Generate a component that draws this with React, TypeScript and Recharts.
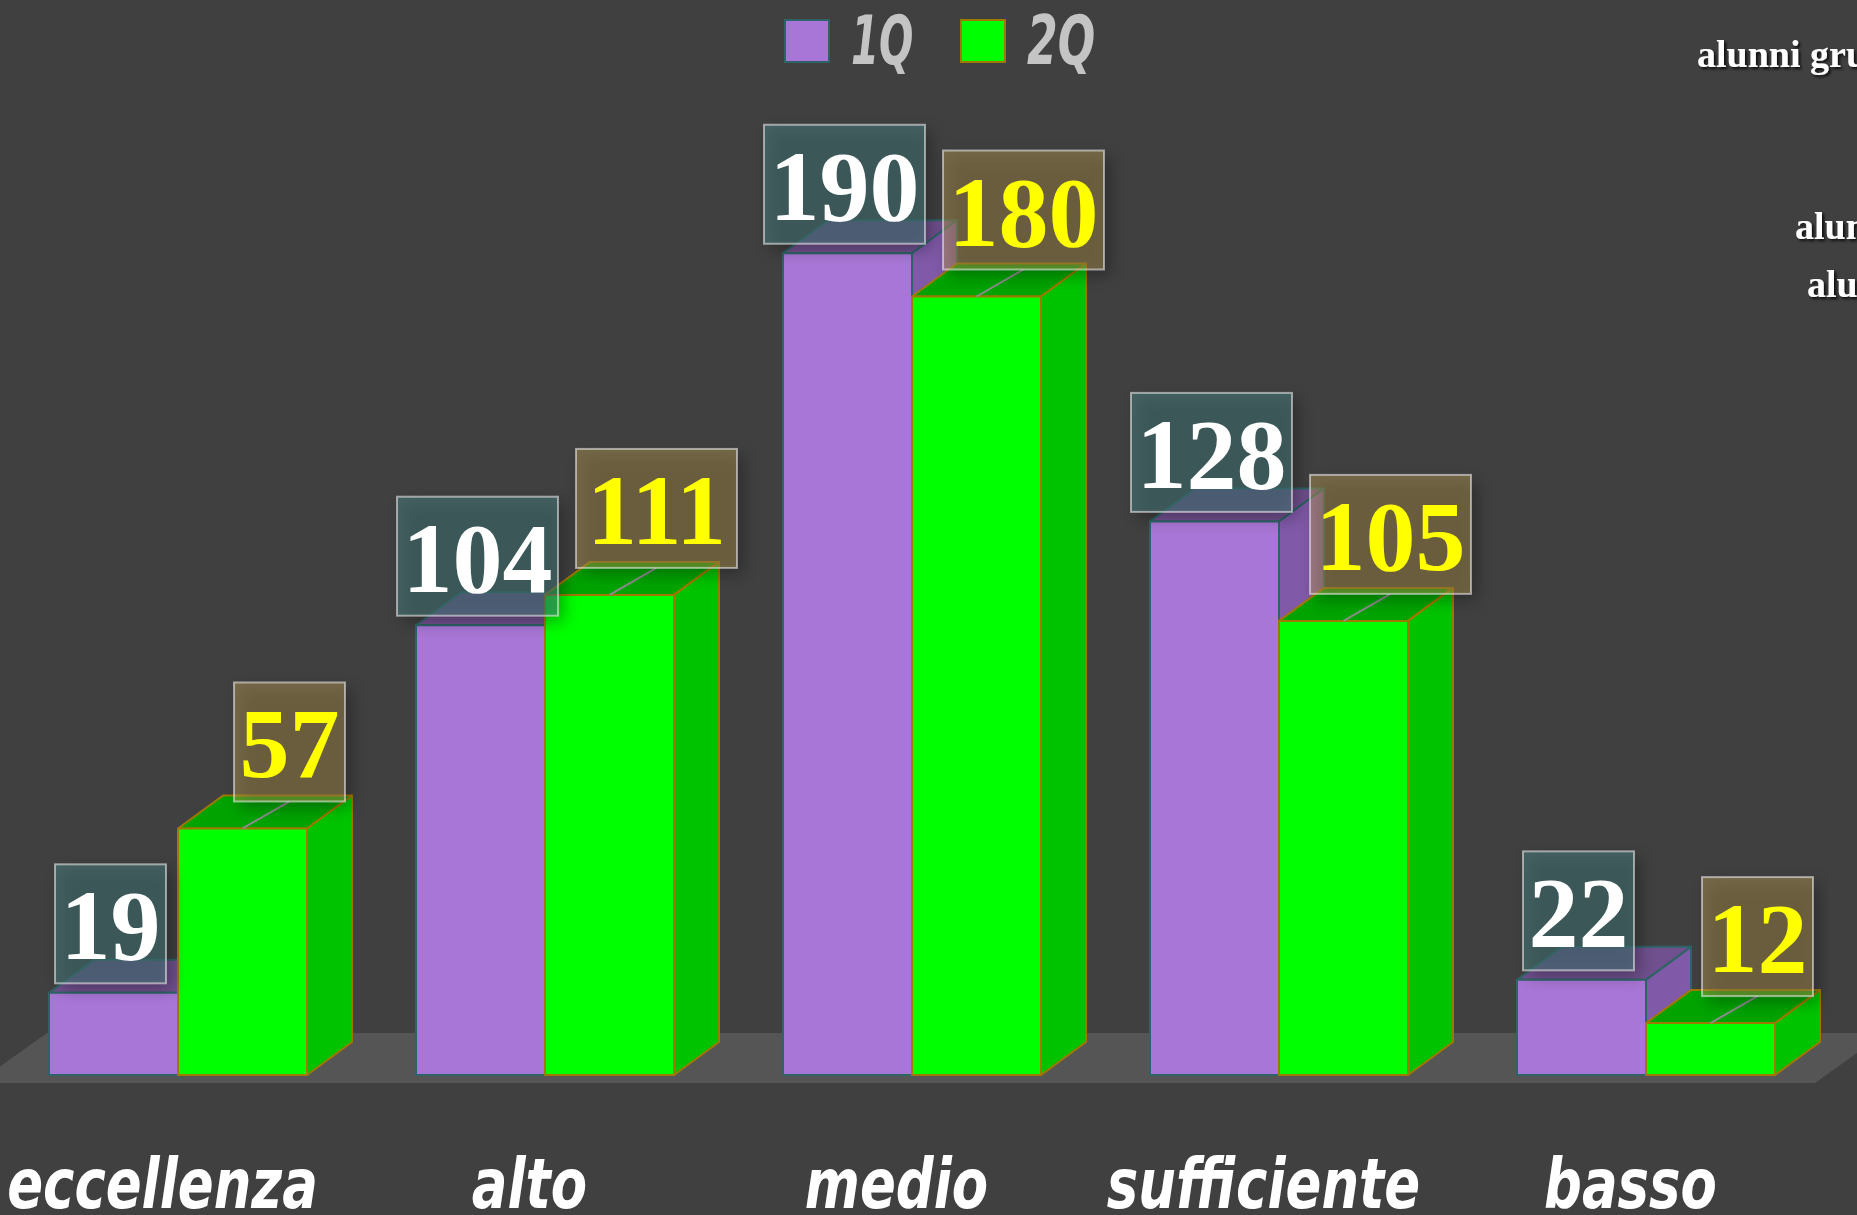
import React from "react";
import { BarChart, Bar, XAxis, YAxis, Legend } from "recharts";

const categories = ["eccellenza", "alto", "medio", "sufficiente", "basso"];
const valuesQ1 = [19, 104, 190, 128, 22];
const valuesQ2 = [57, 111, 180, 105, 12];
const seriesNames = ["1Q", "2Q"];
const sideNotes = ["alunni gru", "alun", "alu"];

const data = categories.map((name, i) => ({ name, q1: valuesQ1[i], q2: valuesQ2[i] }));

// depth of the fake 3d boxes
const DX = 45;
const DY = 33;

const hand = "'Liberation Sans Narrow', 'DejaVu Sans Condensed', sans-serif";
const serif = "'Liberation Serif', 'DejaVu Serif', serif";

const look = {
  q1: { front: "#a876d6", top: "#70508e", side: "#8059a8", stroke: "#2e6466" },
  q2: { front: "#00ff00", top: "#00a300", side: "#00c300", stroke: "#a07800" },
};

function Box3D(props: any) {
  const { x, y, width: w, height: h, c } = props;
  if (h == null || isNaN(h)) return null;
  const b = y + h;
  return (
    <g strokeWidth={2} strokeLinejoin="round">
      <polygon points={`${x},${y} ${x + DX},${y - DY} ${x + w + DX},${y - DY} ${x + w},${y}`} fill={c.top} stroke={c.stroke} />
      <polygon points={`${x + w},${y} ${x + w + DX},${y - DY} ${x + w + DX},${b - DY} ${x + w},${b}`} fill={c.side} stroke={c.stroke} />
      <rect x={x} y={y} width={w} height={h} fill={c.front} stroke={c.stroke} />
    </g>
  );
}

function ValueBox(props: any) {
  const { x, y, width: w, v, second } = props;
  const fs = 100;
  const bw = String(v).length * fs * 0.5 + 11;
  const bh = 119;
  const cx = x + w / 2 + (second ? 47 : -3);
  const bottom = y - (second ? 27 : 9.5);
  return (
    <g>
      {second && <line x1={cx} y1={bottom} x2={x + w / 2} y2={y} stroke="#8c8c8c" strokeWidth={2} />}
      <rect x={cx - bw / 2 + 6} y={bottom - bh + 6} width={bw} height={bh} fill="#000" opacity={0.3} filter="url(#blurShadow)" />
      <rect
        x={cx - bw / 2}
        y={bottom - bh}
        width={bw}
        height={bh}
        fill={second ? "rgba(192,163,85,0.42)" : "rgba(73,129,129,0.5)"}
        stroke="rgba(230,230,230,0.6)"
        strokeWidth={2}
      />
      <text x={cx} y={bottom - 24} textAnchor="middle" fontFamily={serif} fontWeight="bold" fontSize={fs} fill={second ? "#ffff00" : "#ffffff"}>
        {v}
      </text>
    </g>
  );
}

function CategoryTick(props: any) {
  const { x, y, payload } = props;
  return (
    <text
      transform={`translate(${x - 15},${y + 133}) scale(0.84,1)`}
      textAnchor="middle"
      fill="#ffffff"
      fontFamily={hand}
      fontStyle="italic"
      fontWeight="bold"
      fontSize={70}
    >
      {payload.value}
    </text>
  );
}

function LegendContent(props: any) {
  const items = (props.payload || []).filter((p: any) => p.type !== "none");
  return (
    <div style={{ display: "flex", alignItems: "center", height: 82 }}>
      {items.map((p: any, i: number) => {
        const c = p.dataKey === "q1" ? look.q1 : look.q2;
        return (
          <div key={i} style={{ display: "flex", alignItems: "center", marginRight: i === 0 ? 45 : 0 }}>
            <span style={{ display: "inline-block", width: 42, height: 40, background: c.front, border: `2px solid ${c.stroke}` }} />
            <span
              style={{
                display: "inline-block",
                marginLeft: 21,
                marginRight: i === 0 ? -31 : -42,
                transform: `scaleX(${i === 0 ? 0.66 : 0.72})`,
                transformOrigin: "left center",
                fontFamily: hand,
                fontStyle: "italic",
                fontWeight: "bold",
                fontSize: 68,
                lineHeight: 1,
                color: "#c4c4c4",
              }}
            >
              {p.value}
            </span>
          </div>
        );
      })}
    </div>
  );
}

export default function App() {
  return (
    <div style={{ position: "absolute", left: 0, top: 0, width: 1857, height: 1215, overflow: "hidden", background: "#404040" }}>
      <svg width={0} height={0} style={{ position: "absolute" }}>
        <defs>
          <filter id="blurShadow" x="-30%" y="-30%" width="160%" height="160%">
            <feGaussianBlur stdDeviation={8} />
          </filter>
          <filter id="textShadow" x="-10%" y="-30%" width="120%" height="160%">
            <feDropShadow dx={2} dy={2} stdDeviation={1.5} floodColor="#000" floodOpacity={0.8} />
          </filter>
        </defs>
      </svg>
      <svg width={1857} height={1215} style={{ position: "absolute", left: 0, top: 0 }}>
        <polygon points="47,1033 1885,1033 1815,1083 -23,1083" fill="#555555" />
        <g fontFamily={serif} fontWeight="bold" fontSize={38} fill="#ffffff" filter="url(#textShadow)">
          <text x={1697} y={67}>{sideNotes[0]}</text>
          <text x={1795} y={239}>{sideNotes[1]}</text>
          <text x={1807} y={297}>{sideNotes[2]}</text>
        </g>
      </svg>
      <div style={{ position: "absolute", left: -6, top: 0 }}>
        <BarChart width={1835} height={1215} data={data} margin={{ top: 37, right: 0, left: 0, bottom: 0 }} barGap={0}>
          <XAxis dataKey="name" height={140} axisLine={false} tickLine={false} tickSize={0} tickMargin={0} tick={<CategoryTick />} interval={0} />
          <XAxis dataKey="name" xAxisId="labels" hide />
          <YAxis hide domain={[0, 240]} />
          <Legend
            layout="horizontal"
            verticalAlign="middle"
            align="center"
            content={<LegendContent />}
            wrapperStyle={{ top: 0, left: 790, width: "auto" }}
          />
          <Bar dataKey="q1" name={seriesNames[0]} fill={look.q1.front} barSize={129} isAnimationActive={false} shape={(p: any) => <Box3D {...p} c={look.q1} />} />
          <Bar dataKey="q2" name={seriesNames[1]} fill={look.q2.front} barSize={129} isAnimationActive={false} shape={(p: any) => <Box3D {...p} c={look.q2} />} />
          <Bar dataKey="q1" xAxisId="labels" legendType="none" barSize={129} isAnimationActive={false} shape={(p: any) => <ValueBox {...p} v={p.payload.q1} />} />
          <Bar dataKey="q2" xAxisId="labels" legendType="none" barSize={129} isAnimationActive={false} shape={(p: any) => <ValueBox {...p} v={p.payload.q2} second />} />
        </BarChart>
      </div>
    </div>
  );
}
